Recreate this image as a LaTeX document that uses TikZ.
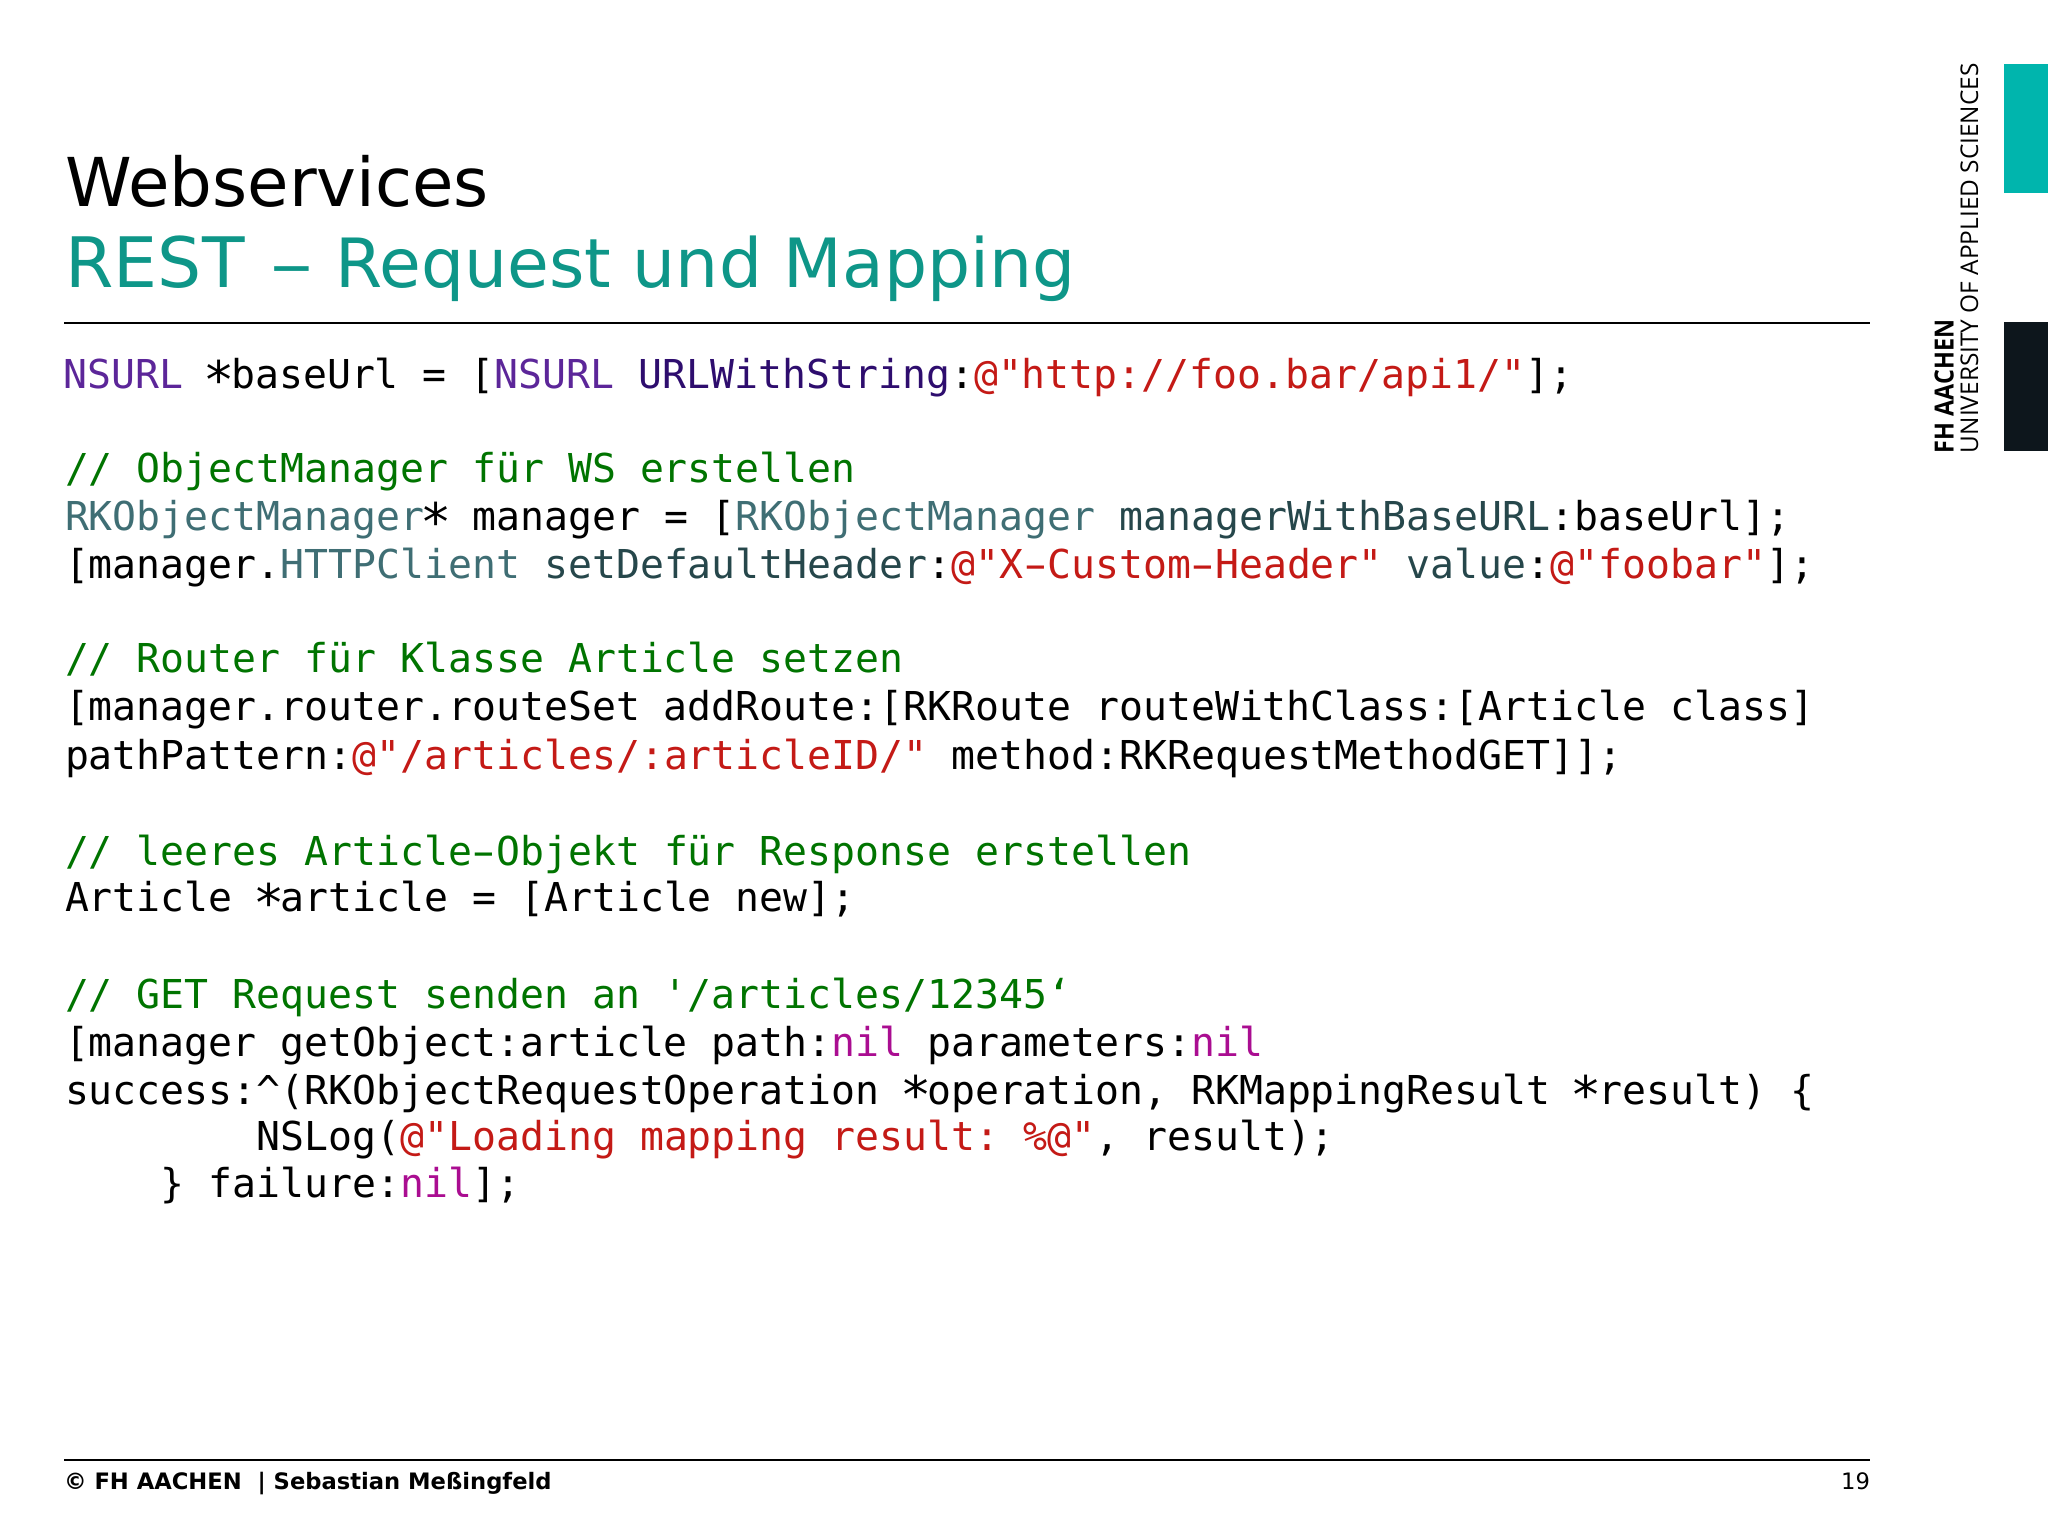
\documentclass[tikz,border=0pt]{standalone}
\usepackage{fontspec}
\setmainfont{DejaVu Sans}
\setmonofont{DejaVu Sans Mono}
\newfontfamily\logofont{Open Sans}
\definecolor{cpurple}{HTML}{5C2699}
\definecolor{cindigo}{HTML}{2E0D6E}
\definecolor{cteal}{HTML}{3F6E74}
\definecolor{cslate}{HTML}{26474B}
\definecolor{cred}{HTML}{C41A16}
\definecolor{cgreen}{HTML}{007400}
\definecolor{ckey}{HTML}{AA0D91}
\definecolor{ctitle}{HTML}{0E9688}
\definecolor{cbarA}{HTML}{00B5AD}
\definecolor{cbarB}{HTML}{0D161C}
\newcommand{\myPu}[1]{\textcolor{cpurple}{#1}}
\newcommand{\myIn}[1]{\textcolor{cindigo}{#1}}
\newcommand{\myTe}[1]{\textcolor{cteal}{#1}}
\newcommand{\mySl}[1]{\textcolor{cslate}{#1}}
\newcommand{\myRe}[1]{\textcolor{cred}{#1}}
\newcommand{\myGr}[1]{\textcolor{cgreen}{#1}}
\newcommand{\myKe}[1]{\textcolor{ckey}{#1}}
\newcommand{\myStar}{\makebox[0.602em]{\raisebox{-0.25em}{\scalebox{1.3}{*}}}}
\newcommand{\myHy}{\makebox[0.602em]{\scalebox{1.7}[1]{-}}}
\tikzset{
  code/.style={anchor=base west,inner sep=0pt,outer sep=0pt,font=\ttfamily\fontsize{19.9}{24}\selectfont,text=black},
  ttl/.style={anchor=base west,inner sep=0pt,outer sep=0pt,font=\fontsize{33.7}{40}\selectfont},
  foot/.style={anchor=base west,inner sep=0pt,outer sep=0pt,font=\bfseries\fontsize{11.32}{14}\selectfont,text=black},
  logo/.style={anchor=base west,inner sep=0pt,outer sep=0pt,rotate=90,text=black},
  rulel/.style={draw=black,line width=0.9pt}
}
\begin{document}
\begin{tikzpicture}[x=0.5pt,y=-0.5pt]
\useasboundingbox[fill=white] (0,0) rectangle (2048,1536);
\node[ttl,text=black] (t1) at (65.5,206) {Webservices};
\node[ttl,text=ctitle,font=\fontsize{34.8}{40}\selectfont] (t2a) at (65.5,287) {REST};
\node[ttl,text=ctitle] (t2b) at (270,287) {\scalebox{1.27}[1]{–}};
\node[ttl,text=ctitle,font=\fontsize{33.96}{40}\selectfont] (t2c) at (335.5,287) {Request und Mapping};
\draw[rulel] (64,323) -- (1870,323);
\node[code] (l1) at (63.5,388.3) {\myPu{NSURL} \myStar{}baseUrl = [\myPu{NSURL} \myIn{URLWithString}:\myRe{@"http://foo.bar/api1/"}];};
\node[code] (l2) at (65,482.3) {\myGr{// ObjectManager für WS erstellen}};
\node[code] (l3) at (65,530.3) {\myTe{RKObjectManager}\myStar{} manager = [\myTe{RKObjectManager} \mySl{managerWithBaseURL}:baseUrl];};
\node[code] (l4) at (65,578.3) {[manager.\myTe{HTTPClient} \mySl{setDefaultHeader}:\myRe{@"X\myHy{}Custom\myHy{}Header"} \mySl{value}:\myRe{@"foobar"}];};
\node[code] (l5) at (65,672.3) {\myGr{// Router für Klasse Article setzen}};
\node[code] (l6) at (65,720.3) {[manager.router.routeSet addRoute:[RKRoute routeWithClass:[Article class]};
\node[code] (l7) at (65,769) {pathPattern:\myRe{@"/articles/:articleID/"} method:RKRequestMethodGET]];};
\node[code] (l8) at (65,865.5) {\myGr{// leeres Article\myHy{}Objekt für Response erstellen}};
\node[code] (l9) at (65,911.5) {Article \myStar{}article = [Article new];};
\node[code] (l10) at (65,1008) {\myGr{// GET Request senden an '/articles/12345‘}};
\node[code] (l11) at (65,1056) {[manager getObject:article path:\myKe{nil} parameters:\myKe{nil}};
\node[code] (l12) at (65,1104) {success:\string^(RKObjectRequestOperation \myStar{}operation, RKMappingResult \myStar{}result) \{};
\node[code] (l13) at (65,1150) {\hspace*{8\fontcharwd\font`0}NSLog(\myRe{@"Loading mapping result: \%@"}, result);};
\node[code] (l14) at (65,1197.3) {\hspace*{4\fontcharwd\font`0}\} failure:\myKe{nil}];};
\draw[rulel] (64,1460) -- (1870,1460);
\node[foot] (f1) at (64,1489.3) {© FH AACHEN \ | Sebastian Meßingfeld};
\node[anchor=base east,inner sep=0pt,outer sep=0pt,font=\fontsize{11.32}{14}\selectfont] (f2) at (1870,1489.3) {19};
\fill[cbarA] (2004,64) rectangle (2048,193);
\fill[cbarB] (2004,322) rectangle (2048,451);
\node[logo,font=\logofont\fontsize{12.2}{16}\selectfont] (u) at (1978,453) {UNIVERSITY OF APPLIED SCIENCES};
\node[logo,font=\logofont\bfseries\fontsize{13.2}{16}\selectfont] (fh) at (1953.5,453) {\scalebox{0.885}[1]{FH AACHEN}};
\end{tikzpicture}
\end{document}
